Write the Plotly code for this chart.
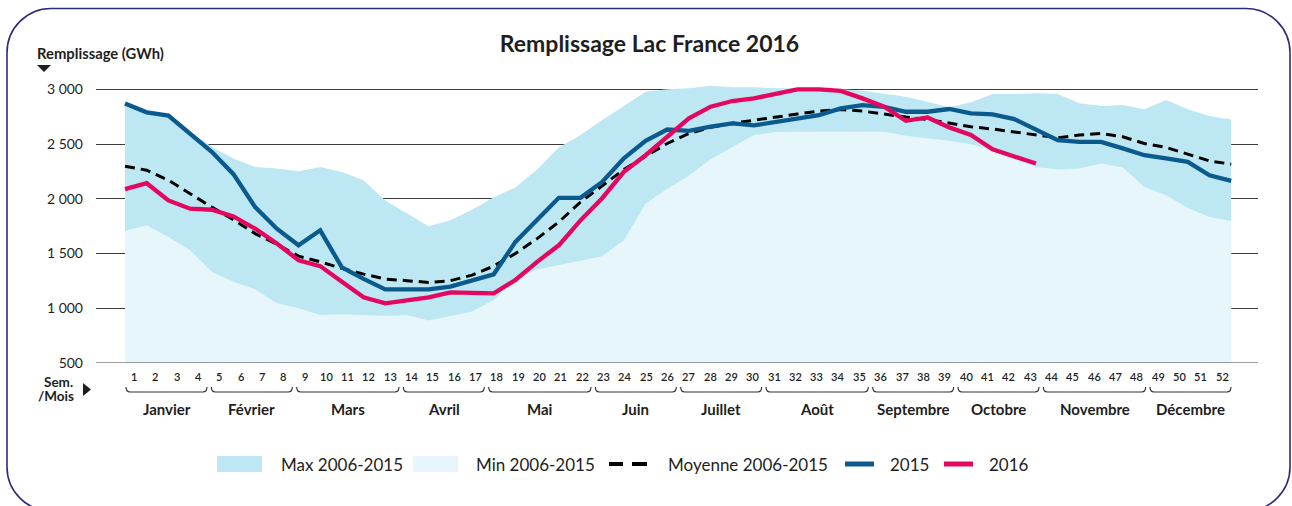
import plotly.graph_objects as go

# ---------------- data ----------------
weeks = list(range(1, 53))
week_labels = [str(w) for w in weeks]

max_2006_2015 = [2860, 2785, 2760, 2610, 2475, 2368, 2291, 2277, 2252, 2291, 2245, 2170, 1985, 1864,
                 1750, 1803, 1900, 2015, 2103, 2267, 2469, 2582, 2719, 2847, 2978, 3000, 3009, 3033,
                 3018, 3018, 3010, 3010, 3005, 3000, 2987, 2957, 2932, 2886, 2835, 2881, 2957, 2957,
                 2963, 2957, 2872, 2847, 2856, 2817, 2902, 2817, 2756, 2725]
min_2006_2015 = [1706, 1758, 1652, 1530, 1333, 1242, 1173, 1045, 1000, 939, 945, 939, 930, 939,
                 888, 930, 970, 1075, 1258, 1355, 1394, 1433, 1476, 1621, 1955, 2091, 2212, 2362,
                 2475, 2582, 2609, 2612, 2612, 2612, 2612, 2612, 2576, 2554, 2530, 2499, 2444, 2368,
                 2291, 2267, 2277, 2322, 2286, 2108, 2032, 1915, 1833, 1797]
moyenne_2006_2015 = [2297, 2261, 2170, 2045, 1924, 1809, 1682, 1585, 1476, 1424, 1364, 1312, 1267, 1252,
                     1236, 1252, 1303, 1385, 1500, 1636, 1788, 1970, 2115, 2267, 2389, 2505, 2597, 2652,
                     2689, 2719, 2749, 2774, 2801, 2815, 2801, 2771, 2746, 2725, 2689, 2658, 2637, 2612,
                     2582, 2557, 2582, 2597, 2566, 2505, 2469, 2408, 2346, 2316]
y2015 = [2870, 2790, 2760, 2590, 2429, 2225, 1924, 1727, 1575, 1712, 1373, 1269, 1173, 1173,
         1173, 1197, 1249, 1310, 1606, 1802, 2009, 2009, 2154, 2369, 2530, 2633, 2621, 2658,
         2689, 2670, 2703, 2740, 2765, 2826, 2855, 2840, 2795, 2795, 2820, 2780, 2771, 2728,
         2627, 2536, 2520, 2520, 2460, 2398, 2368, 2337, 2215, 2163]
y2016 = [2088, 2142, 1985, 1909, 1900, 1839, 1727, 1591, 1439, 1385, 1242, 1100, 1045, 1075,
         1100, 1145, 1136, 1136, 1258, 1424, 1575, 1803, 2005, 2246, 2398, 2566, 2735, 2841,
         2893, 2917, 2963, 3000, 3000, 2985, 2917, 2841, 2712, 2743, 2652, 2582, 2451, 2383, 2322]
weeks_2016 = weeks[:len(y2016)]

y_tickvals = [500, 1000, 1500, 2000, 2500, 3000]
y_ticktext = ["500", "1 000", "1 500", "2 000", "2 500", "3 000"]

months = ["Janvier", "Février", "Mars", "Avril", "Mai", "Juin", "Juillet", "Août",
          "Septembre", "Octobre", "Novembre", "Décembre"]
month_first_week = [1, 5, 9, 14, 18, 23, 27, 31, 36, 40, 44, 49]
month_last_week = [4, 8, 13, 17, 22, 26, 30, 35, 39, 43, 48, 52]

legend_names = ["Max 2006-2015", "Min 2006-2015", "Moyenne 2006-2015", "2015", "2016"]

# ---------------- styles ----------------
C_MAX = "#bde8f3"
C_MIN = "#e7f6fb"
C_2015 = "#0b5a8e"
C_2016 = "#e3075f"
C_TXT = "#1e1e1e"
C_GRID = "#3c3c3c"
C_BORDER = "#2e2b7a"
FONT = "Lato"

W, H = 1292, 506
L, R, T, B = 96, 34, 78, 143
PW = W - L - R
PH = H - T - B


def px(x):
    return (x - L) / PW


def py(y):
    return (H - B - y) / PH


STEP = 21.69
X0PX = 125.0


def wk_from_px(p):
    return 1 + (p - X0PX) / STEP


x_range = [wk_from_px(L), wk_from_px(W - R)]
YPX_PER = 273.7 / 2500.0
y_range = [500, 3000 + (89.3 - T) / YPX_PER]

fig = go.Figure()
fig.add_trace(go.Scatter(x=weeks, y=max_2006_2015, mode="lines", line=dict(width=0),
                         fill="tozeroy", fillcolor=C_MAX, name=legend_names[0], showlegend=False,
                         hoverinfo="skip"))
fig.add_trace(go.Scatter(x=weeks, y=min_2006_2015, mode="lines", line=dict(width=0),
                         fill="tozeroy", fillcolor=C_MIN, name=legend_names[1], showlegend=False,
                         hoverinfo="skip"))
fig.add_trace(go.Scatter(x=weeks, y=moyenne_2006_2015, mode="lines",
                         line=dict(color="#000000", width=3, dash="10px,6px"),
                         name=legend_names[2], showlegend=False))
fig.add_trace(go.Scatter(x=weeks, y=y2015, mode="lines",
                         line=dict(color=C_2015, width=4.3),
                         name=legend_names[3], showlegend=False))
fig.add_trace(go.Scatter(x=weeks_2016, y=y2016, mode="lines",
                         line=dict(color=C_2016, width=4.3),
                         name=legend_names[4], showlegend=False))

shapes = []
annotations = []

lab_first, lab_last = 134.0, 1222.0
lab_step = (lab_last - lab_first) / 51.0


def lab_px(w):
    return lab_first + (w - 1) * lab_step


for w, t in zip(weeks, week_labels):
    annotations.append(dict(x=px(lab_px(w)), y=py(376), xref="paper", yref="paper", text=t,
                            showarrow=False, xanchor="center", yanchor="middle",
                            font=dict(family=FONT, size=11, color=C_TXT, weight=600)))

for m, a, b in zip(months, month_first_week, month_last_week):
    x0 = lab_px(a) - 8
    x1 = lab_px(b) + 9
    yb, yt = 392, 387
    path = (f"M {px(x0)},{py(yt)} Q {px(x0)},{py(yb)} {px(x0 + 4)},{py(yb)} "
            f"L {px(x1 - 4)},{py(yb)} Q {px(x1)},{py(yb)} {px(x1)},{py(yt)}")
    shapes.append(dict(type="path", path=path, xref="paper", yref="paper",
                       line=dict(color="#333333", width=1.2)))
    annotations.append(dict(x=px((x0 + x1) / 2), y=py(409), xref="paper", yref="paper", text=m,
                            showarrow=False, xanchor="center", yanchor="middle",
                            font=dict(family=FONT, size=15, color=C_TXT, weight=700)))

annotations.append(dict(x=px(75), y=py(382), xref="paper", yref="paper", text="Sem.",
                        showarrow=False, xanchor="right", yanchor="middle",
                        font=dict(family=FONT, size=13.5, color=C_TXT, weight=700)))
annotations.append(dict(x=px(76), y=py(395.5), xref="paper", yref="paper", text="/Mois",
                        showarrow=False, xanchor="right", yanchor="middle",
                        font=dict(family=FONT, size=13.5, color=C_TXT, weight=700)))
shapes.append(dict(type="path", xref="paper", yref="paper", line=dict(width=0), fillcolor=C_TXT,
                   path=f"M {px(83)},{py(383)} L {px(91)},{py(389.5)} L {px(83)},{py(396)} Z"))

annotations.append(dict(x=px(35), y=py(53), xref="paper", yref="paper", text="Remplissage (GWh)",
                        showarrow=False, xanchor="left", yanchor="middle",
                        font=dict(family=FONT, size=14.8, color=C_TXT, weight=700)))
shapes.append(dict(type="path", xref="paper", yref="paper", line=dict(width=0), fillcolor=C_TXT,
                   path=f"M {px(37)},{py(65)} L {px(51)},{py(65)} L {px(44)},{py(72)} Z"))

shapes.append(dict(type="line", xref="paper", yref="y", x0=0, x1=1, y0=500, y1=500,
                   line=dict(color=C_GRID, width=1)))

LY = 464
shapes.append(dict(type="rect", xref="paper", yref="paper", x0=px(217), x1=px(262),
                   y0=py(456), y1=py(472), line=dict(width=0), fillcolor=C_MAX))
shapes.append(dict(type="rect", xref="paper", yref="paper", x0=px(413), x1=px(458),
                   y0=py(456), y1=py(472), line=dict(width=0), fillcolor=C_MIN))
shapes.append(dict(type="line", xref="paper", yref="paper", x0=px(609), x1=px(623),
                   y0=py(LY), y1=py(LY), line=dict(color="#000000", width=4)))
shapes.append(dict(type="line", xref="paper", yref="paper", x0=px(632), x1=px(647),
                   y0=py(LY), y1=py(LY), line=dict(color="#000000", width=4)))
shapes.append(dict(type="path", xref="paper", yref="paper", line=dict(color=C_2015, width=5),
                   path=f"M {px(845)},{py(LY)} L {px(874)},{py(LY)}"))
shapes.append(dict(type="path", xref="paper", yref="paper", line=dict(color=C_2016, width=5),
                   path=f"M {px(944)},{py(LY)} L {px(973)},{py(LY)}"))
for name, xl in zip(legend_names, [279, 474, 666, 888, 987]):
    annotations.append(dict(x=px(xl), y=py(LY), xref="paper", yref="paper", text=name,
                            showarrow=False, xanchor="left", yanchor="middle",
                            font=dict(family=FONT, size=17, color=C_TXT)))

bx0, by0, bx1, by1, r = 7, 8.5, 1290, 511, 44
border = (f"M {px(bx0 + r)},{py(by0)} L {px(bx1 - r)},{py(by0)} "
          f"C {px(bx1 - r * 0.45)},{py(by0)} {px(bx1)},{py(by0 + r * 0.45)} {px(bx1)},{py(by0 + r)} "
          f"L {px(bx1)},{py(by1 - r)} "
          f"C {px(bx1)},{py(by1 - r * 0.45)} {px(bx1 - r * 0.45)},{py(by1)} {px(bx1 - r)},{py(by1)} "
          f"L {px(bx0 + r)},{py(by1)} "
          f"C {px(bx0 + r * 0.45)},{py(by1)} {px(bx0)},{py(by1 - r * 0.45)} {px(bx0)},{py(by1 - r)} "
          f"L {px(bx0)},{py(by0 + r)} "
          f"C {px(bx0)},{py(by0 + r * 0.45)} {px(bx0 + r * 0.45)},{py(by0)} {px(bx0 + r)},{py(by0)} Z")
shapes.append(dict(type="path", xref="paper", yref="paper", path=border,
                   line=dict(color=C_BORDER, width=1.6)))

fig.update_layout(
    width=W, height=H,
    margin=dict(l=L, r=R, t=T, b=B),
    paper_bgcolor="white", plot_bgcolor="white",
    title=dict(text="Remplissage Lac France 2016", x=649.5 / W, xref="container", xanchor="center",
               y=1 - 44 / H, yref="container", yanchor="middle",
               font=dict(family=FONT, size=23, color=C_TXT, weight=700)),
    xaxis=dict(range=x_range, showgrid=False, zeroline=False, showticklabels=False, ticks="",
               fixedrange=True),
    yaxis=dict(range=y_range, tickvals=y_tickvals, ticktext=y_ticktext, showgrid=True,
               gridcolor=C_GRID, gridwidth=1, zeroline=False, ticks="", ticklabelstandoff=12,
               tickfont=dict(family=FONT, size=14, color=C_TXT), fixedrange=True),
    shapes=shapes,
    annotations=annotations,
    showlegend=False,
)

fig.write_html("out.html", config={"displayModeBar": False},
               post_script="document.body.style.margin='0';document.body.style.overflow='hidden';")
